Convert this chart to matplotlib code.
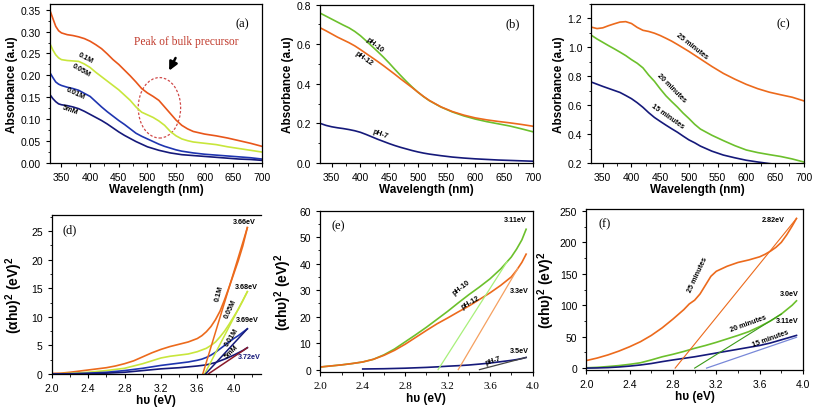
import numpy as np
import matplotlib
matplotlib.use("Agg")
import matplotlib.pyplot as plt
from matplotlib.ticker import MultipleLocator, FormatStrFormatter
from matplotlib.patches import Ellipse

plt.rcParams['font.family'] = ['Liberation Sans', 'DejaVu Sans']
plt.rcParams['mathtext.fontset'] = 'custom'
plt.rcParams['mathtext.rm'] = 'Liberation Sans:bold'
plt.rcParams['mathtext.bf'] = 'Liberation Sans:bold'

# ---------------- (a) concentration ----------------
wl_a = [330, 335, 340, 345, 350, 360, 370, 380, 390, 400, 410, 420, 430, 440, 450, 460, 470, 480, 490,
        500, 510, 520, 530, 540, 550, 560, 570, 580, 600, 620, 640, 660, 680, 700]
a_01M = [0.348, 0.330, 0.312, 0.302, 0.297, 0.293, 0.291, 0.288, 0.284, 0.278, 0.270, 0.261, 0.249, 0.236,
         0.225, 0.212, 0.199, 0.185, 0.170, 0.160, 0.152, 0.143, 0.128, 0.113, 0.098, 0.086, 0.078, 0.072,
         0.066, 0.062, 0.057, 0.051, 0.045, 0.038]
a_005M = [0.272, 0.258, 0.247, 0.240, 0.236, 0.234, 0.233, 0.232, 0.226, 0.218, 0.207, 0.197, 0.187, 0.177,
          0.167, 0.155, 0.143, 0.128, 0.116, 0.110, 0.104, 0.096, 0.086, 0.072, 0.062, 0.055, 0.051, 0.048,
          0.045, 0.042, 0.037, 0.033, 0.029, 0.025]
a_001M = [0.206, 0.195, 0.185, 0.180, 0.177, 0.173, 0.170, 0.166, 0.159, 0.152, 0.140, 0.128, 0.117, 0.107,
          0.097, 0.088, 0.078, 0.068, 0.061, 0.055, 0.049, 0.043, 0.038, 0.034, 0.030, 0.027, 0.025, 0.023,
          0.020, 0.018, 0.016, 0.014, 0.012, 0.009]
a_5mM = [0.156, 0.147, 0.140, 0.135, 0.133, 0.131, 0.128, 0.124, 0.118, 0.111, 0.104, 0.097, 0.089, 0.080,
         0.071, 0.063, 0.056, 0.049, 0.043, 0.037, 0.033, 0.029, 0.026, 0.023, 0.021, 0.019, 0.018, 0.017,
         0.015, 0.013, 0.011, 0.009, 0.008, 0.006]

# ---------------- (b) pH ----------------
wl_b = [330, 340, 350, 360, 370, 380, 390, 400, 410, 420, 430, 440, 450, 460, 470, 480, 490, 500, 510, 520,
        540, 560, 580, 600, 620, 640, 660, 680, 700]
b_pH10 = [0.757, 0.742, 0.727, 0.712, 0.697, 0.683, 0.665, 0.643, 0.617, 0.590, 0.563, 0.535, 0.505, 0.473,
          0.442, 0.412, 0.384, 0.358, 0.335, 0.315, 0.283, 0.258, 0.238, 0.222, 0.209, 0.198, 0.187, 0.173, 0.158]
b_pH12 = [0.683, 0.668, 0.652, 0.636, 0.622, 0.608, 0.592, 0.573, 0.553, 0.533, 0.513, 0.492, 0.470, 0.448,
          0.425, 0.403, 0.381, 0.358, 0.336, 0.316, 0.284, 0.260, 0.242, 0.228, 0.218, 0.210, 0.203, 0.195, 0.186]
b_pH7 = [0.200, 0.190, 0.183, 0.178, 0.174, 0.169, 0.163, 0.155, 0.144, 0.132, 0.120, 0.109, 0.098, 0.088,
         0.079, 0.071, 0.063, 0.056, 0.050, 0.045, 0.037, 0.030, 0.025, 0.021, 0.018, 0.015, 0.013, 0.011, 0.009]

# ---------------- (c) time ----------------
wl_c = [330, 340, 350, 360, 370, 380, 390, 400, 410, 420, 430, 440, 450, 460, 470, 480, 490, 500, 510, 520,
        540, 560, 580, 600, 620, 640, 660, 680, 700]
c_25 = [1.140, 1.130, 1.135, 1.150, 1.163, 1.175, 1.178, 1.165, 1.138, 1.118, 1.110, 1.098, 1.082, 1.063,
        1.043, 1.020, 0.996, 0.972, 0.946, 0.920, 0.868, 0.820, 0.780, 0.744, 0.714, 0.690, 0.672, 0.655, 0.630]
c_20 = [1.084, 1.058, 1.035, 1.012, 0.990, 0.967, 0.943, 0.915, 0.890, 0.858, 0.808, 0.765, 0.713, 0.665,
        0.625, 0.587, 0.545, 0.508, 0.468, 0.435, 0.392, 0.355, 0.320, 0.290, 0.272, 0.258, 0.245, 0.228, 0.207]
c_15 = [0.760, 0.745, 0.730, 0.716, 0.702, 0.688, 0.667, 0.645, 0.617, 0.585, 0.548, 0.515, 0.488, 0.462,
        0.437, 0.413, 0.386, 0.360, 0.340, 0.317, 0.282, 0.255, 0.236, 0.219, 0.207, 0.196, 0.187, 0.178, 0.170]

# ---------------- (d) Tauc, concentration ----------------
e_d = [2.0, 2.1, 2.2, 2.3, 2.4, 2.5, 2.6, 2.7, 2.8, 2.9, 3.0, 3.1, 3.2, 3.3, 3.4, 3.5, 3.6, 3.65, 3.7, 3.75,
       3.8, 3.85, 3.9, 3.95, 4.0, 4.05, 4.1, 4.15]
d_01M = [0.1, 0.15, 0.3, 0.5, 0.7, 0.9, 1.1, 1.4, 1.8, 2.3, 3.0, 3.7, 4.3, 4.8, 5.2, 5.6, 6.2, 6.7, 7.4, 8.3,
         9.5, 11.0, 13.0, 15.2, 17.5, 19.8, 22.4, 25.6]
d_005M = [0.0, 0.05, 0.1, 0.2, 0.3, 0.45, 0.6, 0.8, 1.0, 1.4, 1.8, 2.3, 2.8, 3.1, 3.3, 3.5, 3.9, 4.2, 4.5, 5.0,
          5.6, 6.5, 7.5, 8.7, 10.0, 11.3, 12.8, 14.4]
d_001M = [0.0, 0.0, 0.05, 0.1, 0.15, 0.22, 0.3, 0.45, 0.6, 0.8, 1.0, 1.25, 1.5, 1.7, 1.9, 2.1, 2.4, 2.6, 2.9,
          3.3, 3.8, 4.4, 5.0, 5.6, 6.2, 6.7, 7.3, 7.9]
d_5mM = [0.0, 0.0, 0.0, 0.02, 0.05, 0.1, 0.15, 0.22, 0.3, 0.45, 0.6, 0.75, 0.9, 1.0, 1.1, 1.25, 1.4, 1.5, 1.6,
         1.8, 2.0, 2.3, 2.6, 2.95, 3.3, 3.7, 4.1, 4.6]
d_gaps = [3.66, 3.68, 3.69, 3.72]

# ---------------- (e) Tauc, pH ----------------
e_e = [2.0, 2.1, 2.2, 2.3, 2.4, 2.5, 2.6, 2.7, 2.8, 2.9, 3.0, 3.1, 3.2, 3.3, 3.4, 3.5, 3.6, 3.7, 3.8, 3.85, 3.9, 3.94]
e_pH10 = [1.0, 1.4, 1.8, 2.3, 2.9, 3.9, 5.6, 7.8, 10.5, 13.2, 16.0, 19.0, 22.0, 25.2, 28.3, 31.2, 34.3, 38.0,
          42.5, 45.5, 49.0, 53.0]
e_pH12 = [1.0, 1.4, 1.8, 2.3, 2.9, 3.9, 5.4, 7.3, 9.6, 12.2, 14.8, 17.3, 19.5, 21.8, 24.0, 26.5, 29.0, 31.8,
          35.0, 37.5, 40.5, 43.6]
e_e7 = [2.4, 2.5, 2.6, 2.7, 2.8, 2.9, 3.0, 3.1, 3.2, 3.3, 3.4, 3.5, 3.6, 3.7, 3.8, 3.85, 3.9, 3.94]
e_pH7 = [0.25, 0.3, 0.35, 0.45, 0.55, 0.7, 0.85, 1.05, 1.3, 1.5, 1.75, 2.1, 2.5, 3.0, 3.5, 3.8, 4.2, 4.6]
e_gaps = [3.11, 3.30, 3.50]

# ---------------- (f) Tauc, time ----------------
e_f25 = [2.0, 2.1, 2.2, 2.3, 2.4, 2.5, 2.6, 2.7, 2.8, 2.9, 2.95, 3.0, 3.05, 3.1, 3.15, 3.2, 3.25, 3.3, 3.4,
         3.5, 3.6, 3.65, 3.7, 3.75, 3.8, 3.85, 3.9, 3.94]
f_25 = [12, 16, 21, 27, 34, 42, 52, 64, 78, 93, 102, 108, 118, 132, 146, 154, 158, 162, 168, 172, 177, 181,
        186, 192, 200, 212, 226, 238]
e_f = [2.0, 2.1, 2.2, 2.3, 2.4, 2.5, 2.6, 2.7, 2.8, 2.9, 3.0, 3.1, 3.2, 3.3, 3.4, 3.5, 3.6, 3.7, 3.8, 3.9, 3.94]
f_20 = [0.5, 1.2, 2.5, 4.0, 6.0, 8.5, 13.0, 18.0, 22.0, 26.5, 31.5, 36.0, 41.0, 46.5, 52.0, 58.0, 66.0, 75.0,
        86.0, 100.0, 107.0]
f_15 = [0.0, 0.3, 0.8, 1.8, 3.2, 5.0, 7.3, 10.3, 13.0, 15.5, 18.0, 21.0, 24.0, 27.0, 30.0, 33.0, 36.0, 40.0,
        45.0, 50.0, 52.0]
f_gaps = [2.82, 3.00, 3.11]

W, H = 813, 410
fig = plt.figure(figsize=(W / 100, H / 100), dpi=100)


def add_ax(l, r, t, b):
    return fig.add_axes([l / W, 1 - b / H, (r - l) / W, (b - t) / H])


ORANGE = '#ec6a1c'
YELLOW = '#c8e63c'
GREEN = '#6cc02c'
BLUE = '#1f35b0'
NAVY = '#15197a'
TICK_FS = 7.5
LAB_FS = 8.5
TAUC_LAB = r'(αhυ)$^2$ (eV)$^2$'


def style(ax, serif_x=False):
    ax.tick_params(which='both', direction='out', labelsize=TICK_FS, top=False, right=False)
    ax.tick_params(which='major', length=3, width=0.8)
    ax.tick_params(which='minor', length=1.8, width=0.6)
    for s in ax.spines.values():
        s.set_linewidth(0.9)
    if serif_x:
        for lab in ax.get_xticklabels():
            lab.set_fontfamily('Liberation Serif')
            lab.set_fontsize(TICK_FS + 0.5)


def panel_label(ax, txt, x, y):
    ax.text(x, y, txt, transform=ax.transAxes, fontsize=9, family='Liberation Serif', ha='center', va='center')


def small(ax, x, y, txt, rot, color='black', fs=5.2):
    ax.text(x, y, txt, fontsize=fs, fontweight='bold', rotation=rot, color=color,
            ha='center', va='center', rotation_mode='anchor')


def wl_axes(ax, ymax, ymin, ymaj, ymin_step, fmt=None):
    ax.set_xlim(330, 700)
    ax.set_ylim(ymin, ymax)
    ax.xaxis.set_major_locator(MultipleLocator(50))
    ax.xaxis.set_minor_locator(MultipleLocator(25))
    ax.yaxis.set_major_locator(MultipleLocator(ymaj))
    ax.yaxis.set_minor_locator(MultipleLocator(ymin_step))
    if fmt:
        ax.yaxis.set_major_formatter(FormatStrFormatter(fmt))
    ax.set_xlabel('Wavelength (nm)', fontsize=LAB_FS, fontweight='bold', labelpad=1)
    ax.set_ylabel('Absorbance (a.u)', fontsize=LAB_FS, fontweight='bold', labelpad=2)


def ev_axes(ax, xmax, ymin, ymax, ymaj, ymin_step, pad=4):
    ax.set_xlim(2.0, xmax)
    ax.set_ylim(ymin, ymax)
    ax.xaxis.set_major_locator(MultipleLocator(0.4))
    ax.xaxis.set_minor_locator(MultipleLocator(0.2))
    ax.yaxis.set_major_locator(MultipleLocator(ymaj))
    ax.yaxis.set_minor_locator(MultipleLocator(ymin_step))
    ax.xaxis.set_major_formatter(FormatStrFormatter('%.1f'))
    ax.set_xlabel('hυ (eV)', fontsize=LAB_FS, fontweight='bold', labelpad=1)
    ax.set_ylabel(TAUC_LAB, fontsize=10, fontweight='bold', labelpad=pad)


# ---- (a)
ax = add_ax(50, 262, 5, 164)
ax.plot(wl_a, a_01M, color='#e8561a', lw=1.2)
ax.plot(wl_a, a_005M, color=YELLOW, lw=1.2)
ax.plot(wl_a, a_001M, color=BLUE, lw=1.2)
ax.plot(wl_a, a_5mM, color=NAVY, lw=1.2)
wl_axes(ax, 0.363, 0, 0.05, 0.025, '%.2f')
style(ax)
panel_label(ax, '(a)', 0.905, 0.88)
small(ax, 392, 0.240, '0.1M', -28)
small(ax, 385, 0.212, '0.05M', -30)
small(ax, 375, 0.160, '0.01M', -25)
small(ax, 365, 0.123, '5mM', -20)
ax.text(0.645, 0.765, 'Peak of bulk precursor', transform=ax.transAxes, color='#c0392b',
        family='Liberation Serif', fontsize=8.3, ha='center', va='center')
ax.annotate('', xy=(0.556, 0.565), xytext=(0.598, 0.676), xycoords='axes fraction',
            arrowprops=dict(arrowstyle='-|>,head_width=0.25,head_length=0.5', color='black', lw=1.8))
ax.add_patch(Ellipse((521, 0.126), 74, 0.138, fill=False, ls=(0, (2, 1.5)), ec='#d04a4a', lw=0.9))

# ---- (b)
ax = add_ax(320.3, 532.7, 5.7, 164)
ax.plot(wl_b, b_pH10, color=GREEN, lw=1.2)
ax.plot(wl_b, b_pH12, color=ORANGE, lw=1.2)
ax.plot(wl_b, b_pH7, color=NAVY, lw=1.2)
wl_axes(ax, 0.8, 0, 0.2, 0.1)
style(ax)
panel_label(ax, '(b)', 0.905, 0.88)
small(ax, 425, 0.60, 'pH-10', -38)
small(ax, 405, 0.53, 'pH-12', -35)
small(ax, 435, 0.15, 'pH-7', -20)

# ---- (c)
ax = add_ax(591.3, 803.7, 5, 164)
ax.plot(wl_c, c_25, color=ORANGE, lw=1.2)
ax.plot(wl_c, c_20, color=GREEN, lw=1.2)
ax.plot(wl_c, c_15, color=NAVY, lw=1.2)
wl_axes(ax, 1.3, 0.2, 0.2, 0.1)
style(ax)
panel_label(ax, '(c)', 0.905, 0.88)
small(ax, 505, 1.01, '25 minutes', -38)
small(ax, 470, 0.72, '20 minutes', -45)
small(ax, 462, 0.53, '15 minutes', -35)

# ---- (d)
ax = add_ax(51.7, 261, 216, 375)
cols_d = [ORANGE, YELLOW, BLUE, NAVY]
tang_d = [ORANGE, YELLOW, NAVY, '#8a1a2a']
for ys, c in zip([d_01M, d_005M, d_001M, d_5mM], cols_d):
    ax.plot(e_d, ys, color=c, lw=1.2)
for ys, g, c in zip([d_01M, d_005M, d_001M, d_5mM], d_gaps, tang_d):
    ax.plot([g, e_d[-1]], [0, ys[-1]], color=c, lw=1.1)
ev_axes(ax, 4.3, 0, 27.8, 5, 2.5)
ax.spines['right'].set_visible(False)
style(ax)
panel_label(ax, '(d)', 0.085, 0.91)
small(ax, 4.12, 26.6, '3.66eV', 0)
small(ax, 4.14, 15.3, '3.68eV', 0)
small(ax, 4.15, 9.5, '3.69eV', 0)
small(ax, 4.17, 3.0, '3.72eV', 0, color=NAVY)
small(ax, 3.84, 14.2, '0.1M', 75)
small(ax, 3.97, 11.5, '0.05M', 65)
small(ax, 3.98, 6.5, '0.01M', 58)
small(ax, 3.98, 4.0, '5mM', 45)

# ---- (e)
ax = add_ax(320.3, 532.5, 211.7, 373.3)
ax.plot(e_e, e_pH10, color=GREEN, lw=1.2)
ax.plot(e_e, e_pH12, color=ORANGE, lw=1.2)
ax.plot(e_e7, e_pH7, color=NAVY, lw=1.2)
ax.plot([e_gaps[0], 3.76], [0, np.interp(3.76, e_e, e_pH10)], color='#a8f07a', lw=0.9)
ax.plot([e_gaps[1], 3.86], [0, np.interp(3.86, e_e, e_pH12)], color='#f5a060', lw=0.9)
ax.plot([e_gaps[2], e_e7[-1]], [0, e_pH7[-1]], color='#444444', lw=0.9)
ev_axes(ax, 4.0, -1, 60, 10, 5)
style(ax, serif_x=True)
panel_label(ax, '(e)', 0.085, 0.91)
small(ax, 3.84, 56.5, '3.11eV', 0)
small(ax, 3.88, 29.7, '3.3eV', 0)
small(ax, 3.88, 7.3, '3.5eV', 0)
small(ax, 3.33, 31.0, 'pH-10', 38)
small(ax, 3.42, 25.5, 'pH-12', 30)
small(ax, 3.63, 3.4, 'pH-7', 18)

# ---- (f)
ax = add_ax(586.3, 803, 210, 371)
ax.plot(e_f25, f_25, color=ORANGE, lw=1.2)
ax.plot(e_f, f_20, color=GREEN, lw=1.2)
ax.plot(e_f, f_15, color=NAVY, lw=1.2)
ax.plot([f_gaps[0], e_f25[-1]], [0, f_25[-1]], color=ORANGE, lw=0.8)
ax.plot([f_gaps[1], 3.80], [0, np.interp(3.80, e_f, f_20)], color='#3a9a18', lw=0.8)
ax.plot([f_gaps[2], e_f[-1]], [0, f_15[-1] - 3], color='#7888d8', lw=0.9)
ev_axes(ax, 4.0, -3, 253, 50, 25, pad=2)
style(ax)
panel_label(ax, '(f)', 0.085, 0.91)
small(ax, 3.73, 236, '2.82eV', 0)
small(ax, 3.87, 118, '3.0eV', 0)
small(ax, 3.85, 75, '3.11eV', 0)
small(ax, 3.03, 150, '25 minutes', 65)
small(ax, 3.50, 72, '20 minutes', 20)
small(ax, 3.70, 48, '15 minutes', 20)

fig.savefig('out.png', dpi=100)
